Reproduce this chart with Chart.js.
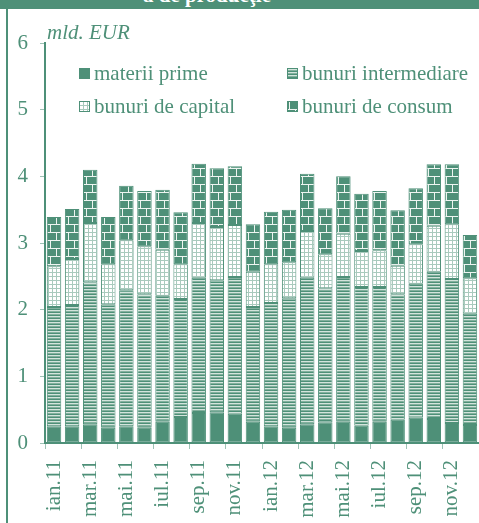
<!DOCTYPE html>
<html>
<head>
<meta charset="utf-8">
<script src="https://cdn.jsdelivr.net/npm/chart.js@4"></script>
<style>
  html, body { margin: 0; padding: 0; background: #fff; }
  #wrap { position: relative; width: 479px; height: 523px; overflow: hidden; }
  #titlebar { position: absolute; left: 0; top: 0; width: 479px; height: 9px; background: #4e9078; overflow: hidden; }
  #titlebar span { position: absolute; left: 143px; top: -17px; font: bold 21px "Liberation Serif", serif; color: #fff; white-space: nowrap; }
  #frame { position: absolute; left: 6px; top: 0; width: 2px; height: 523px; background: #4e9078; }
  #unit { position: absolute; left: 47px; top: 20px; font: italic 21px "Liberation Serif", serif; color: #4e9078; }
  .leg { position: absolute; font: 21px "Liberation Serif", serif; color: #4e9078; white-space: nowrap; line-height: 24px; }
  .leg canvas { position: absolute; left: -15px; top: 7px; }
  canvas#chart { position: absolute; left: 0; top: 0; }
</style>
</head>
<body>
<div id="wrap">
  <canvas id="chart" width="479" height="523"></canvas>
  <div id="titlebar"><span>a de producţie</span></div>
  <div id="frame"></div>
  <div id="unit">mld. EUR</div>
  <div class="leg" style="left:94px; top:61px;"><canvas id="sw0" width="11" height="11"></canvas>materii prime</div>
  <div class="leg" style="left:302px; top:61px;"><canvas id="sw1" width="11" height="11"></canvas>bunuri intermediare</div>
  <div class="leg" style="left:94px; top:94px;"><canvas id="sw2" width="11" height="11"></canvas>bunuri de capital</div>
  <div class="leg" style="left:302px; top:94px;"><canvas id="sw3" width="11" height="11"></canvas>bunuri de consum</div>
</div>
<script>
// Date (mld. EUR)
const luni = ["ian.11","feb.11","mar.11","apr.11","mai.11","iun.11","iul.11","aug.11","sep.11","oct.11","nov.11","dec.11",
              "ian.12","feb.12","mar.12","apr.12","mai.12","iun.12","iul.12","aug.12","sep.12","oct.12","nov.12","dec.12"];
const materiiPrime = [0.25,0.25,0.28,0.23,0.25,0.23,0.32,0.39,0.45,0.46,0.44,0.32,
                      0.25,0.23,0.28,0.31,0.32,0.26,0.32,0.35,0.38,0.36,0.30,0.27];
const bunuriIntermediare = [1.79,1.82,2.13,1.85,2.04,2.00,1.89,1.77,2.03,1.98,2.05,1.72,
                            1.85,1.94,2.20,2.01,2.17,2.08,2.02,1.88,2.01,2.21,2.16,1.67];
const bunuriCapital = [0.61,0.69,0.89,0.60,0.75,0.72,0.69,0.52,0.82,0.80,0.78,0.53,
                       0.58,0.54,0.70,0.51,0.65,0.54,0.55,0.43,0.59,0.69,0.82,0.53];
const bunuriConsum = [0.74,0.75,0.80,0.71,0.82,0.83,0.90,0.78,0.89,0.88,0.88,0.71,
                      0.79,0.79,0.86,0.69,0.86,0.86,0.89,0.83,0.84,0.92,0.90,0.65];
const yTicks = [0, 1, 2, 3, 4, 5, 6];

const VERDE = "#4e9078";

// modele de umplere
function tile(w, h, draw) {
  const c = document.createElement("canvas");
  c.width = w; c.height = h;
  draw(c.getContext("2d"));
  return c;
}
const tiles = {
  plin: tile(4, 4, g => { g.fillStyle = VERDE; g.fillRect(0, 0, 4, 4); }),
  dungi: tile(4, 3, g => {
    g.fillStyle = VERDE; g.fillRect(0, 0, 4, 1);
    g.fillStyle = "#d3e4dc"; g.fillRect(0, 1, 4, 1);
    g.fillStyle = "#82b09d"; g.fillRect(0, 2, 4, 1);
  }),
  puncte: tile(4, 4, g => {
    g.fillStyle = "#ffffff"; g.fillRect(0, 0, 4, 4);
    g.fillStyle = "#a9cabd"; g.fillRect(0, 0, 4, 1); g.fillRect(0, 0, 1, 4);
  }),
  caramizi: tile(12, 16, g => {
    g.fillStyle = VERDE; g.fillRect(0, 0, 12, 16);
    g.fillStyle = "#eef5f1";
    g.fillRect(0, 0, 12, 1); g.fillRect(0, 8, 12, 1);
    g.fillRect(2, 1, 1, 7); g.fillRect(8, 9, 1, 7);
  })
};

const ctx = document.getElementById("chart").getContext("2d");
const pat = k => ctx.createPattern(tiles[k], "repeat");

// mostre legenda
["plin", "dungi", "puncte", "caramizi"].forEach((k, i) => {
  const g = document.getElementById("sw" + i).getContext("2d");
  g.fillStyle = g.createPattern(tiles[k], "repeat");
  g.fillRect(0, 0, 11, 11);
  g.strokeStyle = VERDE; g.lineWidth = 1;
  g.strokeRect(0.5, 0.5, 10, 10);
});

function serie(label, data, k) {
  return {
    label, data,
    backgroundColor: pat(k),
    borderColor: VERDE,
    borderWidth: 1,
    borderSkipped: false,
    categoryPercentage: 1,
    barPercentage: 0.8,
  };
}

new Chart(ctx, {
  type: "bar",
  data: {
    labels: luni,
    datasets: [
      serie("materii prime", materiiPrime, "plin"),
      serie("bunuri intermediare", bunuriIntermediare, "dungi"),
      serie("bunuri de capital", bunuriCapital, "puncte"),
      serie("bunuri de consum", bunuriConsum, "caramizi"),
    ],
  },
  options: {
    responsive: false,
    animation: false,
    layout: { padding: { left: 0, right: 0, top: 43, bottom: 0 } },
    plugins: { legend: { display: false }, tooltip: { enabled: false } },
    scales: {
      x: {
        stacked: true,
        afterFit: s => { s.height = 80; s.paddingLeft = 0; s.paddingRight = 0; },
        border: { color: VERDE, width: 2 },
        grid: {
          drawOnChartArea: false,
          tickLength: 6,
          color: c => (c.index % 2 === 0 ? "rgba(78,144,120,0.55)" : "rgba(0,0,0,0)"),
        },
        ticks: {
          autoSkip: false,
          minRotation: 90,
          maxRotation: 90,
          padding: 11,
          color: VERDE,
          font: { family: "Liberation Serif", size: 21 },
          callback: (v, i) => (i % 2 === 0 ? luni[i] : ""),
        },
      },
      y: {
        stacked: true,
        min: 0,
        max: 6,
        afterFit: s => { s.width = 45; },
        afterBuildTicks: s => { s.ticks = yTicks.map(v => ({ value: v })); },
        border: { color: VERDE, width: 2 },
        grid: { drawOnChartArea: false, tickLength: 5, color: "rgba(78,144,120,0.55)" },
        ticks: {
          padding: 12,
          color: VERDE,
          font: { family: "Liberation Serif", size: 21 },
        },
      },
    },
  },
});
</script>
</body>
</html>
